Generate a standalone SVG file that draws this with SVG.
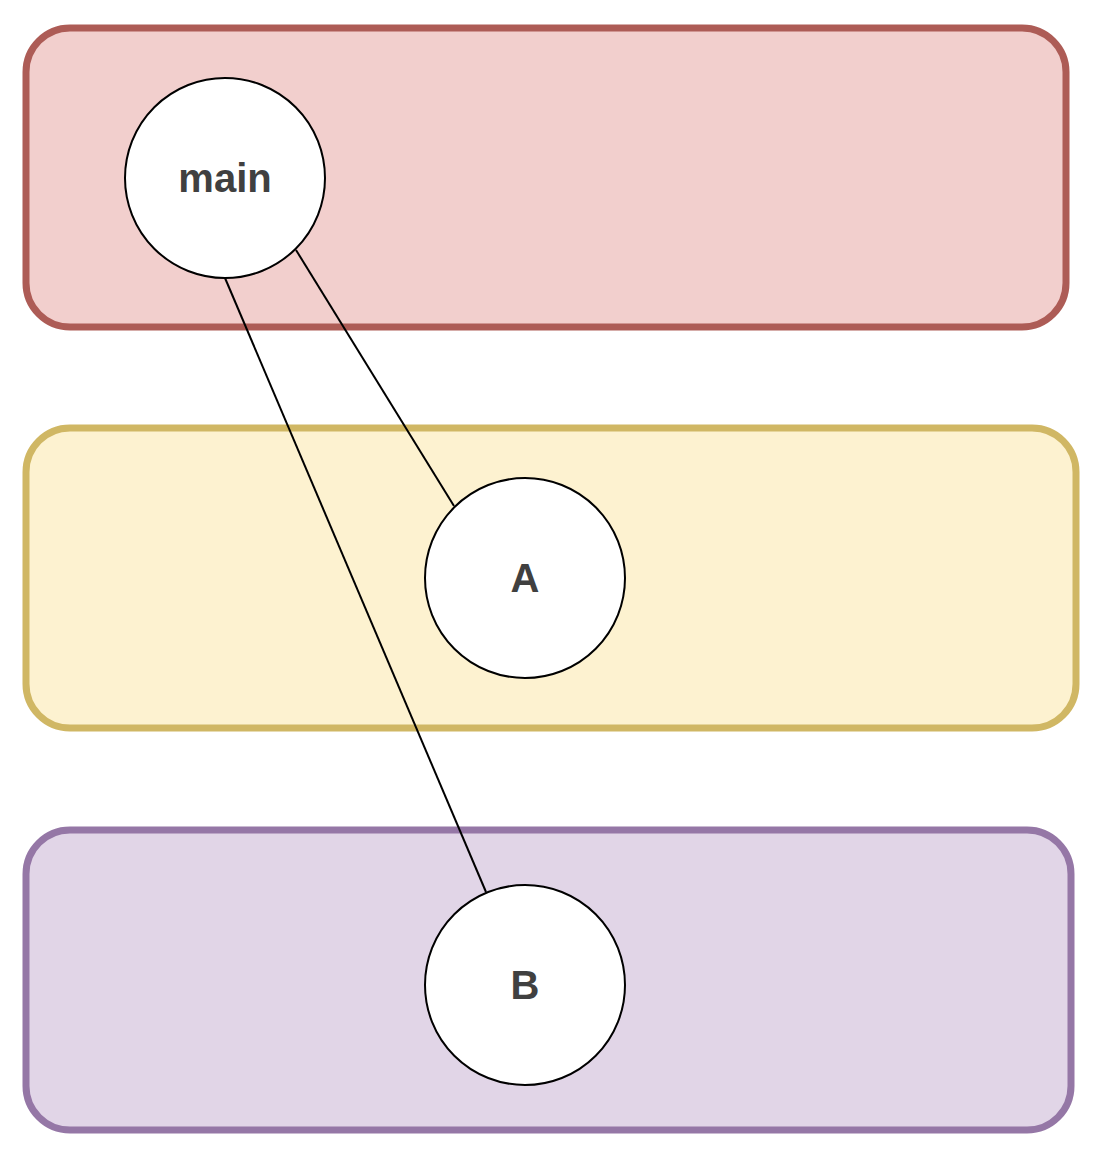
<svg xmlns="http://www.w3.org/2000/svg" width="1098" height="1150" viewBox="0 0 1098 1150">
<style>
.lane{stroke-width:7}
.node{fill:#fff;stroke:#000;stroke-width:2}
.lbl{font-family:"Liberation Sans",Arial,sans-serif;font-weight:bold;font-size:40px;fill:#404040;text-anchor:middle;dominant-baseline:central}
.edge{stroke:#000;stroke-width:2;fill:none}
</style>
<rect width="1098" height="1150" fill="#fff"/>
<g id="lane-red"><rect class="lane" x="26" y="28" width="1040" height="299" rx="44" fill="#f2cfcd" stroke="#ad5c56"/></g>
<g id="lane-yellow"><rect class="lane" x="26" y="428" width="1050" height="300" rx="44" fill="#fdf2d0" stroke="#d0b764"/></g>
<g id="lane-purple"><rect class="lane" x="26" y="830" width="1045" height="300" rx="44" fill="#e1d5e7" stroke="#9577a6"/></g>
<g id="connectors">
<line class="edge" x1="296" y1="250" x2="454" y2="506"/>
<line class="edge" x1="225" y1="278" x2="486" y2="892"/>
</g>
<g id="main"><circle class="node" cx="225" cy="178" r="100"/><text class="lbl" x="225" y="178">main</text></g>
<g id="A"><circle class="node" cx="525" cy="578" r="100"/><text class="lbl" x="525" y="578">A</text></g>
<g id="B"><circle class="node" cx="525" cy="985" r="100"/><text class="lbl" x="525" y="985">B</text></g>
</svg>
